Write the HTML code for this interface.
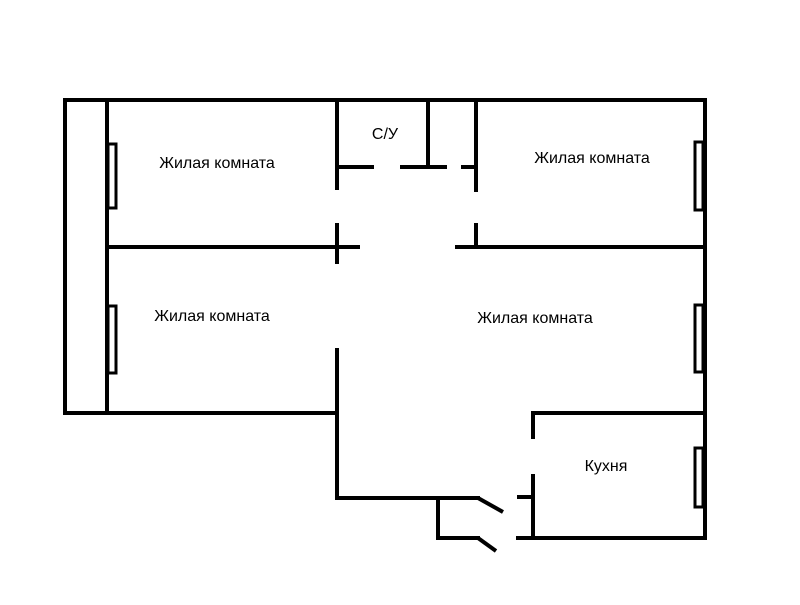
<!DOCTYPE html>
<html><head><meta charset="utf-8"><style>
body{margin:0;background:#fff}
svg text{font-family:"Liberation Sans",sans-serif;font-size:16px;fill:#000}
</style></head><body>
<svg width="800" height="600" viewBox="0 0 800 600" xmlns="http://www.w3.org/2000/svg">
<g stroke="#000" stroke-width="4" fill="none" stroke-linecap="square">
<rect x="65" y="100" width="42" height="313"/>
<line x1="107" y1="100" x2="705" y2="100"/>
<line x1="705" y1="100" x2="705" y2="538"/>
<line x1="107" y1="413" x2="337" y2="413"/>
<line x1="107" y1="247" x2="358" y2="247"/>
<line x1="337" y1="100" x2="337" y2="188"/>
<line x1="337" y1="225" x2="337" y2="262"/>
<line x1="337" y1="350" x2="337" y2="498"/>
<line x1="337" y1="167" x2="372" y2="167"/>
<line x1="402" y1="167" x2="445" y2="167"/>
<line x1="428" y1="100" x2="428" y2="167"/>
<line x1="463" y1="167" x2="476" y2="167"/>
<line x1="476" y1="100" x2="476" y2="190"/>
<line x1="476" y1="225" x2="476" y2="247"/>
<line x1="457" y1="247" x2="705" y2="247"/>
<line x1="337" y1="498" x2="478" y2="498"/>
<line x1="478" y1="498" x2="503" y2="512" stroke-linecap="butt"/>
<line x1="438" y1="498" x2="438" y2="538"/>
<line x1="438" y1="538" x2="478" y2="538"/>
<line x1="478" y1="538" x2="496" y2="551" stroke-linecap="butt"/>
<line x1="533" y1="413" x2="705" y2="413"/>
<line x1="533" y1="413" x2="533" y2="437"/>
<line x1="533" y1="476" x2="533" y2="538"/>
<line x1="519" y1="497" x2="533" y2="497"/>
<line x1="518" y1="538" x2="705" y2="538"/>
</g>
<g stroke="#000" stroke-width="3" fill="#fff">
<rect x="108" y="144" width="8" height="64"/>
<rect x="108" y="306" width="8" height="67"/>
<rect x="695" y="142" width="8" height="68"/>
<rect x="695" y="305" width="8" height="67"/>
<rect x="695" y="448" width="8" height="59"/>
</g>
<text x="217" y="168" text-anchor="middle">Жилая комната</text>
<text x="212" y="321" text-anchor="middle">Жилая комната</text>
<text x="592" y="163" text-anchor="middle">Жилая комната</text>
<text x="535" y="323" text-anchor="middle">Жилая комната</text>
<text x="385" y="139" text-anchor="middle">С/У</text>
<text x="606" y="471" text-anchor="middle">Кухня</text>
</svg>
</body></html>
